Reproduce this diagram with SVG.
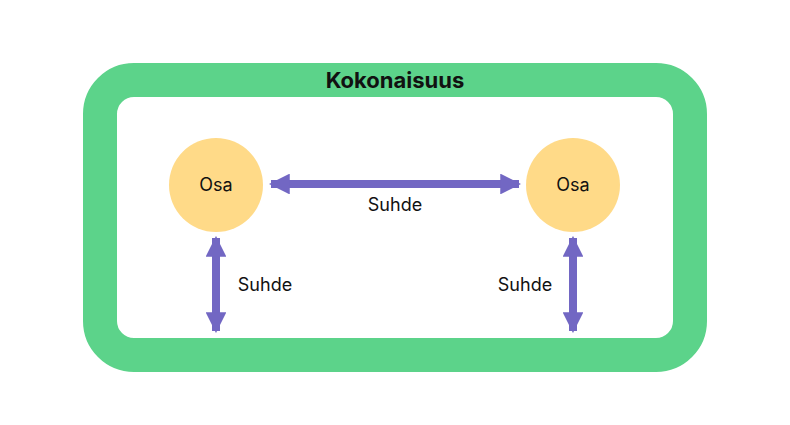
<svg xmlns="http://www.w3.org/2000/svg" width="790" height="425" viewBox="0 0 790 425">
<style>
.t{font-family:Inter,"Liberation Sans",sans-serif;font-size:18px;fill:#111;text-anchor:middle}
.c{stroke:#7267C3;stroke-width:8;fill:none}
.n{fill:#FFDA88}
</style>
<defs>
<marker id="a" viewBox="0 0 10 10" refX="9" refY="5" markerWidth="2.6" markerHeight="2.6" orient="auto-start-reverse" markerUnits="strokeWidth">
<path d="M0,0L10,5L0,10z" fill="#7267C3"/>
</marker>
</defs>
<rect width="790" height="425" fill="#fff"/>
<g id="whole">
<rect x="100" y="80" width="590" height="275" rx="34" fill="#fff" stroke="#5CD38A" stroke-width="34"/>
<text x="395" y="88" class="t" style="font-size:22px;font-weight:bold">Kokonaisuus</text>
</g>
<g id="osa1"><circle cx="216" cy="185" r="47" class="n"/><text x="216" y="191" class="t">Osa</text></g>
<g id="osa2"><circle cx="573" cy="185" r="47" class="n"/><text x="573" y="191" class="t">Osa</text></g>
<g id="connectors">
<line x1="271" y1="184" x2="519" y2="184" class="c" marker-start="url(#a)" marker-end="url(#a)"/>
<line x1="216" y1="238" x2="216" y2="331" class="c" marker-start="url(#a)" marker-end="url(#a)"/>
<line x1="573" y1="238" x2="573" y2="331" class="c" marker-start="url(#a)" marker-end="url(#a)"/>
<text x="395" y="211" class="t">Suhde</text>
<text x="265" y="291" class="t">Suhde</text>
<text x="525" y="291" class="t">Suhde</text>
</g>
</svg>
